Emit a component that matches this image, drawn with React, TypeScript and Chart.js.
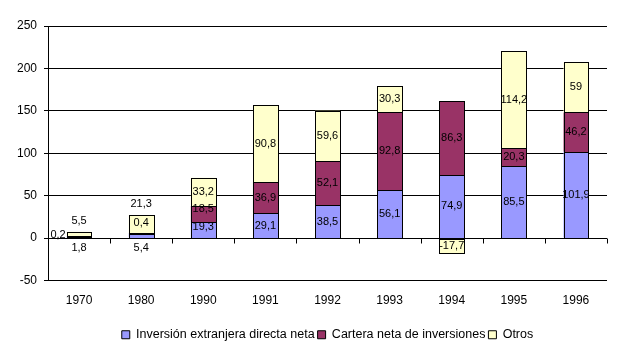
import React, { useEffect, useRef } from "react";
import { Chart, registerables } from "chart.js";

Chart.register(...registerables);

const years = ["1970", "1980", "1990", "1991", "1992", "1993", "1994", "1995", "1996"];
const inversionDirecta = [1.8, 5.4, 19.3, 29.1, 38.5, 56.1, 74.9, 85.5, 101.9];
const carteraNeta = [0.2, 0.4, 18.5, 36.9, 52.1, 92.8, 86.3, 20.3, 46.2];
const otros = [5.5, 21.3, 33.2, 90.8, 59.6, 30.3, -17.7, 114.2, 59];
const yTicks = [-50, 0, 50, 100, 150, 200, 250];

const FONT = "'Liberation Sans', Arial, sans-serif";

// pixel nudges for labels Excel moved away from segment centre
const labelNudge: Record<string, [number, number]> = {
  "0-0": [0, 11],
  "1-0": [-21, -2],
  "2-0": [0, -13],
  "0-1": [0, 12],
  "1-1": [0, -10],
  "2-1": [0, -20],
  "0-2": [0, -3],
  "1-2": [0, -5],
};

const fmt = (v: number) => String(v).replace(".", ",");

// crisp outlined bars drawn from the library's bar element geometry
const crispBarsPlugin = {
  id: "crispBars",
  afterDatasetsDraw(chart: any) {
    const ctx = chart.ctx;
    ctx.save();
    chart.data.datasets.forEach((ds: any, di: number) => {
      const meta = chart.getDatasetMeta(di);
      meta.data.forEach((el: any) => {
        const l = Math.round(el.x - el.width / 2);
        const r = Math.round(el.x + el.width / 2);
        const t = Math.round(Math.min(el.y, el.base));
        const b = Math.round(Math.max(el.y, el.base));
        ctx.fillStyle = ds.backgroundColor;
        ctx.fillRect(l, t, r - l, b - t);
        ctx.strokeStyle = "#000";
        ctx.lineWidth = 1;
        ctx.strokeRect(l + 0.5, t + 0.5, r - l, b - t);
      });
    });
    ctx.restore();
  },
};

const labelsPlugin = {
  id: "segLabels",
  afterDatasetsDraw(chart: any) {
    const ctx = chart.ctx;
    ctx.save();
    ctx.font = `11px ${FONT}`;
    ctx.fillStyle = "#000";
    ctx.textAlign = "center";
    ctx.textBaseline = "middle";
    chart.data.datasets.forEach((ds: any, di: number) => {
      const meta = chart.getDatasetMeta(di);
      meta.data.forEach((el: any, i: number) => {
        const v = ds.data[i];
        const nudge = labelNudge[`${di}-${i}`] || [0, 0];
        const cy = (el.y + el.base) / 2;
        ctx.fillText(fmt(v), el.x + nudge[0], cy + nudge[1]);
      });
    });
    ctx.restore();
  },
};

const axisTicksPlugin = {
  id: "zeroTicks",
  afterDraw(chart: any) {
    const { ctx, chartArea } = chart;
    const y0 = Math.round(chart.scales.y.getPixelForValue(0)) + 0.5;
    const n = years.length;
    ctx.save();
    ctx.strokeStyle = "#000";
    ctx.lineWidth = 1;
    ctx.beginPath();
    for (let i = 1; i <= n; i++) {
      const x = Math.round(chartArea.left + ((chartArea.right - chartArea.left) * i) / n) + 0.5;
      ctx.moveTo(x, y0);
      ctx.lineTo(x, y0 + 5);
    }
    ctx.stroke();
    ctx.restore();
  },
};

// centre the legend under the plot area rather than the whole canvas
const legendShiftPlugin = {
  id: "legendShift",
  afterLayout(chart: any) {
    const lg = chart.legend;
    if (!lg) return;
    const shift = chart.chartArea.left / 2;
    lg.left += shift;
    lg.right += shift;
  },
};

export default function App() {
  const ref = useRef<HTMLCanvasElement>(null);
  useEffect(() => {
    if (!ref.current) return;
    const chart = new Chart(ref.current, {
      type: "bar",
      data: {
        labels: years,
        datasets: [
          {
            label: "Inversión extranjera directa neta",
            data: inversionDirecta,
            backgroundColor: "#9999FF",
            borderWidth: 0,
          },
          {
            label: "Cartera neta de inversiones",
            data: carteraNeta,
            backgroundColor: "#993366",
            borderWidth: 0,
          },
          {
            label: "Otros",
            data: otros,
            backgroundColor: "#FFFFCC",
            borderWidth: 0,
          },
        ],
      },
      options: {
        responsive: false,
        animation: false,
        events: [],
        layout: { padding: { top: 26, right: 16, left: 0, bottom: 0 } },
        datasets: { bar: { barPercentage: 0.4, categoryPercentage: 1, inflateAmount: 0 } },
        plugins: {
          legend: {
            position: "bottom",
            labels: {
              boxWidth: 8,
              boxHeight: 8,
              padding: 3,
              color: "#000",
              font: { family: FONT, size: 12.5 },
              generateLabels(chart: any) {
                const items = (Chart as any).defaults.plugins.legend.labels.generateLabels(chart);
                return items.map((it: any) => ({ ...it, lineWidth: 1, strokeStyle: "#000" }));
              },
            },
          },
          tooltip: { enabled: false },
        },
        scales: {
          x: {
            stacked: true,
            grid: { display: false, drawTicks: false },
            border: { display: false },
            ticks: { color: "#000", padding: 13, font: { family: FONT, size: 12 }, maxRotation: 0 },
            afterFit(scale: any) {
              scale.height = 45;
            },
          },
          y: {
            stacked: true,
            min: -50,
            max: 250,
            afterBuildTicks(scale: any) {
              scale.ticks = yTicks.map((v) => ({ value: v }));
            },
            grid: { color: "#000", lineWidth: 1, tickLength: 4, drawTicks: true },
            border: { display: true, color: "#000", width: 1 },
            ticks: { color: "#000", padding: 7, font: { family: FONT, size: 12 } },
            afterFit(scale: any) {
              scale.width = 48;
            },
          },
        },
      },
      plugins: [crispBarsPlugin, labelsPlugin, axisTicksPlugin, legendShiftPlugin],
    } as any);
    return () => chart.destroy();
  }, []);
  return (
    <div style={{ position: "absolute", left: 0, top: 0, width: 623, height: 351, background: "#fff" }}>
      <canvas ref={ref} width={623} height={351} style={{ display: "block" }} />
    </div>
  );
}
